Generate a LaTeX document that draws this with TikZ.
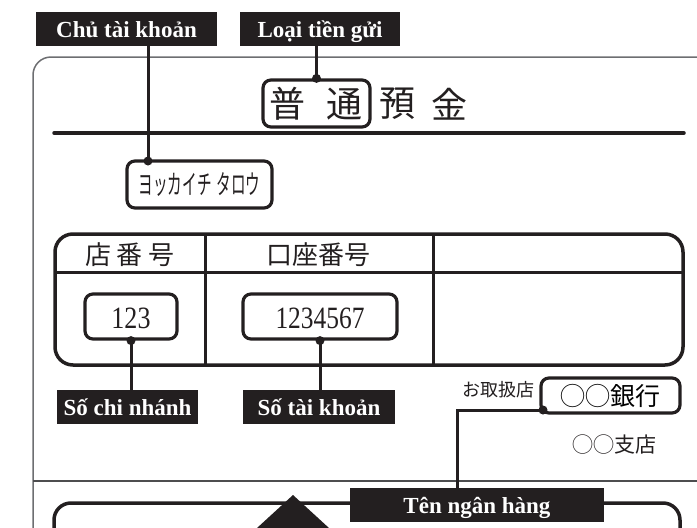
\documentclass[tikz,border=0pt]{standalone}
\usepackage{fontspec}
\setmainfont{Liberation Serif}
\newfontfamily\jp{Noto Sans CJK JP}
\definecolor{ink}{HTML}{231F20}
\definecolor{framegray}{HTML}{6D6E71}
\definecolor{rulegray}{HTML}{4D4D4F}
\begin{document}
\begin{tikzpicture}[x=1pt,y=-1pt,
  lbl/.style={fill=ink,text=white,inner sep=0pt,minimum height=34pt,
    text height=20pt,text depth=4pt,font=\fontsize{23}{26}\selectfont\bfseries},
  tbox/.style={draw=ink,line width=3.2pt,rounded corners=8pt,inner sep=0pt},
  conn/.style={draw=ink,line width=3pt},
  jptext/.style={inner sep=0pt,text=ink},
  thickline/.style={draw=ink,line width=3.5pt}]
\useasboundingbox (0,0) rectangle (697,528);
\begin{scope}
\clip (0,0) rectangle (697,528);
% outer passbook frame
\draw[framegray,line width=1.5pt,rounded corners=18pt] (33,560) -- (33,57) -- (730,57);
\draw[rulegray,line width=1.5pt] (33,481) -- (697,481);
% lower panel and arrow
\draw[thickline,rounded corners=17pt] (54,560) -- (54,503) -- (680,503) -- (680,560);
\fill[ink] (293,495) -- (329,528) -- (257,528) -- cycle;
\end{scope}

% header rule
\draw[thickline,line cap=round] (54,133) -- (684,133);

% account type box and title
\node[tbox,minimum width=107pt,minimum height=47pt] (kind) at (316.5,103.5) {};
\node[jptext,font=\jp\fontsize{36}{40}\selectfont] (c1) at (287,104) {普};
\node[jptext,font=\jp\fontsize{36}{40}\selectfont] (c2) at (344,104) {通};
\node[jptext,font=\jp\fontsize{36}{40}\selectfont] (c3) at (397,104) {預};
\node[jptext,font=\jp\fontsize{36}{40}\selectfont] (c4) at (449,104) {金};

% holder name box
\node[tbox,minimum width=145pt,minimum height=47pt] (kata) at (199.5,184.5) {};
\node[jptext] (katat) at (199.5,184.5) {\scalebox{0.54}[1]{\jp\fontsize{27}{29}\selectfont ヨッカイチ\hspace{9pt}タロウ}};

% table
\draw[thickline,rounded corners=18pt] (55,234) rectangle (683,365);
\draw[ink,line width=3pt] (55,272) -- (683,272);
\draw[ink,line width=3pt] (205,234) -- (205,365);
\draw[ink,line width=3pt] (433,234) -- (433,365);
\node[jptext,font=\jp\fontsize{26}{28}\selectfont] (h1) at (130,255) {店\hspace{6pt}番\hspace{6pt}号};
\node[jptext,font=\jp\fontsize{26}{28}\selectfont] (h2) at (318,255) {口座番号};

\node[tbox,minimum width=92pt,minimum height=45pt] (b123) at (131,316.5) {};
\node[jptext] (n123) at (131,318) {\scalebox{0.84}[1]{\fontsize{31}{33}\selectfont 123}};
\node[tbox,minimum width=154pt,minimum height=45pt] (b7) at (320,316.5) {};
\node[jptext] (n7) at (320,318) {\scalebox{0.82}[1]{\fontsize{31}{33}\selectfont 1234567}};

% bank
\node[jptext,font=\jp\fontsize{18}{20}\selectfont] (toriatsukai) at (498,390) {お取扱店};
\node[tbox,minimum width=139pt,minimum height=35pt,font=\jp\fontsize{25}{27}\selectfont] (bank) at (610.5,395.5) {◯◯銀行};
\node[jptext,font=\jp\fontsize{21}{23}\selectfont] (branch) at (614,445) {◯◯支店};

% labels
\node[lbl,minimum width=181pt] (owner) at (126.5,29) {Chủ tài khoản};
\node[lbl,minimum width=160pt] (type) at (320,29) {Loại tiền gửi};
\node[lbl,minimum width=141pt] (branchno) at (127.5,407) {Số chi nhánh};
\node[lbl,minimum width=152pt] (acctno) at (319,407) {Số tài khoản};

% connectors
\coordinate (od) at (148,161);
\draw[conn] (owner.south -| od) -- (od);
\fill[ink] (od) circle (4.5pt);
\draw[conn] (type.south -| kind.north) -- (kind.north);
\fill[ink] (kind.north) circle (4.5pt);
\draw[conn] (b123.south) -- (branchno.north -| b123.south);
\fill[ink] (b123.south) circle (4.5pt);
\draw[conn] (b7.south) -- (acctno.north -| b7.south);
\fill[ink] (b7.south) circle (4.5pt);

\node[lbl,minimum width=254pt] (bankname) at (477,505) {Tên ngân hàng};
\coordinate (bd) at (543,410);
\coordinate (bend) at (457,410);
\draw[conn] (bd) -- (bend) -- (bend |- bankname.north);
\fill[ink] (bd) circle (4.5pt);
\end{tikzpicture}
\end{document}
